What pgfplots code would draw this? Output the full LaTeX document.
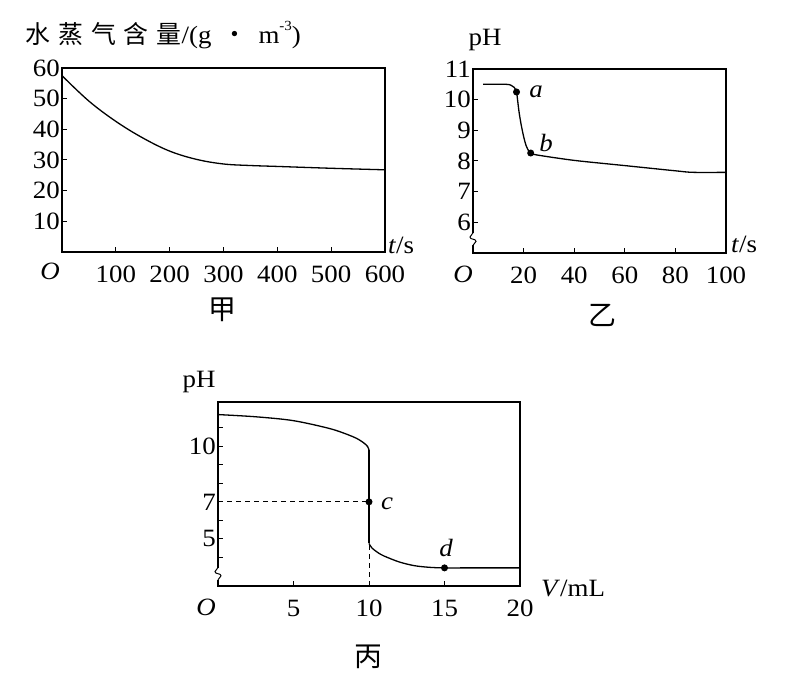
\documentclass[border=0pt]{standalone}
\usepackage{fontspec}
\setmainfont{Liberation Serif}[FakeStretch=1.08]
\newfontfamily\cjk{Noto Sans CJK SC}
\usepackage{pgfplots}
\pgfplotsset{compat=1.18}
\pgfplotsset{
  base/.style={
    scale only axis, anchor=south west, clip=false,
    axis line style={line width=1.1bp},
    tick style={black, line width=1bp},
    tick align=inside, tick pos=left,
    major tick length=5bp, minor tick length=5bp,
    ticklabel style={font=\fontsize{25}{28}\selectfont},
    xticklabel style={anchor=north, inner sep=0pt, yshift=-14bp},
    yticklabel style={anchor=east, inner sep=0pt, xshift=-2bp},
    /pgf/number format/assume math mode=true,
    /pgf/number format/1000 sep={},
    every axis plot/.append style={line width=1.3bp, black},
  }
}
\begin{document}
\fontsize{25}{28}\selectfont
\begin{tikzpicture}
\path (0bp,0bp) rectangle (787bp,687bp);

% ---------------- 甲 ----------------
\begin{axis}[base, at={(62bp,435bp)}, width=323bp, height=184bp,
  xmin=0, xmax=600, ymin=0, ymax=60,
  xtick={100,200,...,600}, ytick={10,20,...,60}]
\addplot[no marks, smooth, tension=0.6] coordinates {
 (0,57.5) (50,49.2) (100,42.6) (150,37.2) (200,32.9) (250,30.2)
 (300,28.7) (350,28.2) (400,27.9) (500,27.3) (600,26.8)};
\end{axis}

% ---------------- 乙 ----------------
\begin{axis}[base, at={(473bp,434bp)}, width=253bp, height=184bp,
  xmin=0, xmax=100, ymin=5, ymax=11,
  xtick={20,40,...,100}, ytick={6,7,...,11}]
\addplot[no marks, smooth, tension=0.5] coordinates {
 (4,10.5) (13,10.5) (15,10.47) (16.3,10.4) (17.2,10.25) (17.6,10.0)
 (18.2,9.6) (19,9.2) (20,8.8) (21,8.5) (22,8.33) (22.8,8.26)};
\addplot[no marks, smooth, tension=0.5] coordinates {
 (22.8,8.26) (25,8.2) (40,8.02) (60,7.85) (80,7.68) (87,7.63) (100,7.63)};
\addplot[only marks, mark=*, mark size=2.8bp] coordinates {(17.2,10.25) (22.8,8.26)};
\node at (axis cs:24.9,10.25) {\textit{a}};
\node at (axis cs:28.9,8.59) {\textit{b}};
\draw[white, line width=3bp] (axis cs:0,5.25) -- (axis cs:0,5.66);
\draw[line width=1bp] (axis cs:0,5.66) to[out=-90,in=90] ([xshift=-3bp]axis cs:0,5.52)
  to[out=-90,in=90] ([xshift=3bp]axis cs:0,5.38) to[out=-90,in=90] (axis cs:0,5.25);
\end{axis}

% ---------------- 丙 ----------------
\begin{axis}[base, at={(218bp,101bp)}, width=302bp, height=184bp,
  xmin=0, xmax=20, ymin=2.45, ymax=12.4,
  xtick={5,10,15,20}, ytick={5,7,10}, minor ytick={4,6,8,9,11}]
\addplot[no marks, line width=1bp, dash pattern=on 5bp off 4bp] coordinates {(0,7) (10,7)};
\addplot[no marks, line width=1bp, dash pattern=on 5bp off 4bp] coordinates {(10,2.45) (10,4.7)};
\addplot[no marks, smooth, tension=0.5] coordinates {
 (0,11.72) (2.5,11.6) (5,11.39) (7.5,10.94) (9,10.5) (9.6,10.22) (9.9,10.0) (10,9.8)};
\addplot[no marks] coordinates {(10,9.8) (10,4.75)};
\addplot[no marks, smooth, tension=0.5] coordinates {
 (10,4.75) (10.2,4.5) (10.6,4.25) (11,4.07) (12,3.75) (13,3.55) (14,3.46) (15,3.43) (17,3.43) (20,3.43)};
\addplot[only marks, mark=*, mark size=2.8bp] coordinates {(10,7) (15,3.43)};
\node at (axis cs:11.19,6.92) {\textit{c}};
\node at (axis cs:15.1,4.53) {\textit{d}};
\draw[white, line width=3bp] (axis cs:0,2.78) -- (axis cs:0,3.45);
\draw[line width=1bp] (axis cs:0,3.45) to[out=-90,in=90] ([xshift=-3bp]axis cs:0,3.23)
  to[out=-90,in=90] ([xshift=3bp]axis cs:0,3.0) to[out=-90,in=90] (axis cs:0,2.78);
\end{axis}

% ---------------- texts ----------------
\node[anchor=west, inner sep=0pt] at (25bp,652bp) {{\fontsize{25}{28}\selectfont\cjk 水\hspace{8bp}蒸\hspace{8bp}气\hspace{8bp}含\hspace{8bp}量}/(g\hspace{11bp}{\cjk ・}\hspace{11bp}m\raisebox{0.55em}{\fontsize{14}{14}\selectfont -3})};
\node[anchor=west, inner sep=0pt] at (388bp,442bp) {\textit{t}/s};
\node at (50bp,416bp) {\textit{O}};
\node at (222bp,377bp) {\fontsize{28}{30}\selectfont\cjk 甲};

\node at (485bp,647bp) {pH};
\node[anchor=west, inner sep=0pt] at (731bp,443bp) {\textit{t}/s};
\node at (463bp,413bp) {\textit{O}};
\node at (602bp,372bp) {\fontsize{28}{30}\selectfont\cjk 乙};

\node at (199bp,305bp) {pH};
\node[anchor=west, inner sep=0pt] at (541bp,99bp) {\textit{V}/mL};
\node at (206bp,80bp) {\textit{O}};
\node at (368bp,30bp) {\fontsize{28}{30}\selectfont\cjk 丙};
\end{tikzpicture}
\end{document}
